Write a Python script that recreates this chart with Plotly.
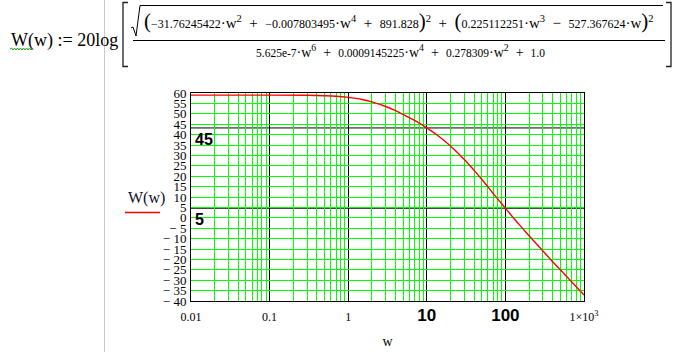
import plotly.graph_objects as go

# ---------------- data ----------------
w_vals = [0.01, 0.1, 0.3, 0.5, 0.7, 1, 1.5, 2, 3, 4, 5, 7, 10, 15, 20, 30, 40,
          50, 70, 100, 150, 200, 300, 400, 500, 700, 1000]
W_vals = [59.0, 59.0, 58.9, 58.7, 58.45, 57.9, 56.9, 55.7, 53.5, 51.5, 49.7,
          46.8, 43.2, 38.5, 34.5, 28.0, 22.8, 18.5, 11.7, 4.6, -3.3, -8.6,
          -16.0, -21.1, -25.0, -30.9, -37.1]

x_tick_vals = [0.01, 0.1, 1, 10, 100, 1000]
x_tick_text = ["0.01", "0.1", "1",
               "<span style='font-family:Liberation Sans;font-size:17px'><b>10</b></span>",
               "<span style='font-family:Liberation Sans;font-size:17px'><b>100</b></span>",
               "1×10<sup>3</sup>"]
y_tick_vals = list(range(-40, 61, 5))
y_tick_text = [("\u2212 " + str(-v)) if v < 0 else str(v) for v in y_tick_vals]

marker_y_vals = [43.2, 4.6]
marker_y_text = ["45", "5"]

minor_x = [m * 10 ** e for e in range(-2, 3) for m in range(2, 10)]

# ---------------- geometry helpers (pixel -> paper) ----------------
W_PX, H_PX = 678, 352
L, R, T, B = 191, 584, 93, 301


def px(x):
    return (x - L) / (R - L)


def py(y):
    return (B - y) / (B - T)


fig = go.Figure()
fig.add_trace(go.Scatter(x=w_vals, y=W_vals, mode="lines",
                         line=dict(color="#ff0000", width=1.4, shape="spline"),
                         showlegend=False, hoverinfo="skip"))

shapes = []
annotations = []

# marker lines
for v, t in zip(marker_y_vals, marker_y_text):
    shapes.append(dict(type="line", xref="paper", yref="y", x0=0, x1=1, y0=v, y1=v,
                       line=dict(color="black", width=1), layer="below"))
    annotations.append(dict(xref="paper", yref="y", x=0, y=v, text="<b>" + t + "</b>",
                            showarrow=False, xanchor="left", yanchor="top",
                            xshift=2, yshift=-1,
                            font=dict(family="Liberation Sans", size=16, color="black")))

# y-axis label and its trace indicator
annotations.append(dict(xref="paper", yref="paper", x=px(146), y=py(198), text="W(w)",
                        showarrow=False, xanchor="center", yanchor="middle",
                        font=dict(family="Liberation Serif", size=16, color="#101030")))
shapes.append(dict(type="line", xref="paper", yref="paper", x0=px(125), x1=px(160),
                   y0=py(212.5), y1=py(212.5), line=dict(color="#ff0000", width=1.5)))

# gray region separator
shapes.append(dict(type="line", xref="paper", yref="paper", x0=px(104.5), x1=px(104.5),
                   y0=py(0), y1=py(352), line=dict(color="#c8c8c8", width=1)))

SP = "\u2002"
# formula: left part
annotations.append(dict(xref="paper", yref="paper", x=px(9), y=py(40),
                        text="W(w) := 20log",
                        showarrow=False, xanchor="left", yanchor="middle",
                        font=dict(family="Liberation Serif", size=18, color="black")))
# green squiggle under W
sq = "M {} {}".format(px(10), py(49))
xx = 10
up = True
while xx < 32:
    xx += 1.5
    sq += " L {} {}".format(px(xx), py(48 if up else 50))
    up = not up
shapes.append(dict(type="path", xref="paper", yref="paper", path=sq,
                   line=dict(color="#20a020", width=1)))

# brackets
for xa, xb in [(128, 123), (666, 671)]:
    shapes.append(dict(type="path", xref="paper", yref="paper",
                       path="M {a} {t} L {b} {t} L {b} {bb} L {a} {bb}".format(
                           a=px(xa), b=px(xb), t=py(2.5), bb=py(66.5)),
                       line=dict(color="#202020", width=1.3)))
# sqrt sign
shapes.append(dict(type="path", xref="paper", yref="paper",
                   path="M {} {} L {} {} L {} {} L {} {} L {} {}".format(
                       px(131), py(28), px(133), py(27), px(136), py(36),
                       px(140), py(5.5), px(663), py(5.5)),
                   line=dict(color="black", width=1)))
# fraction bar
shapes.append(dict(type="line", xref="paper", yref="paper", x0=px(133), x1=px(665),
                   y0=py(40.5), y1=py(40.5), line=dict(color="black", width=1)))


def n(s, size=12):
    return "<span style='font-size:{}px'>".format(size) + s + "</span>"


def P(s):
    return "<span style='font-size:21px'>" + s + "</span>"


def op(s):
    return SP + s + SP


numer = (P("(") + n("\u221231.76245422") + "·w<sup>2</sup>" + op("+") + n("\u22120.007803495")
         + "·w<sup>4</sup>" + op("+") + n("891.828") + P(")") + "<sup>2</sup>" + op("+") + P("(")
         + n("0.225112251") + "·w<sup>3</sup>" + op("\u2212") + n("527.367624") + "·w" + P(")")
         + "<sup>2</sup>")
annotations.append(dict(xref="paper", yref="paper", x=px(142), y=py(21), text=numer,
                        showarrow=False, xanchor="left", yanchor="middle",
                        font=dict(family="Liberation Serif", size=15, color="black")))

denom = (n("5.625e-7", 11.5) + "·w<sup>6</sup>" + op("+") + n("0.0009145225", 11.5)
         + "·w<sup>4</sup>" + op("+") + n("0.278309", 11.5) + "·w<sup>2</sup>" + op("+")
         + n("1.0", 11.5))
annotations.append(dict(xref="paper", yref="paper", x=px(400), y=py(51), text=denom,
                        showarrow=False, xanchor="center", yanchor="middle",
                        font=dict(family="Liberation Serif", size=14, color="black")))

fig.update_layout(
    width=W_PX, height=H_PX,
    margin=dict(l=L, r=W_PX - R, t=T, b=H_PX - B, pad=0, autoexpand=False),
    paper_bgcolor="white", plot_bgcolor="white",
    font=dict(family="Liberation Serif", size=12, color="black"),
    shapes=shapes, annotations=annotations,
    xaxis=dict(type="log", range=[-2, 3], tickmode="array", tickvals=x_tick_vals,
               ticktext=x_tick_text, showgrid=True, gridcolor="black", gridwidth=1,
               minor=dict(tickmode="array", tickvals=minor_x, showgrid=True,
                          gridcolor="#00ff00", gridwidth=1, ticks=""),
               showline=True, mirror=True, linecolor="black", linewidth=1,
               ticks="", ticklabelstandoff=5, zeroline=False, automargin=False,
               tickfont=dict(family="Liberation Serif", size=12, color="black"),
               title=dict(text="w", standoff=11,
                          font=dict(family="Liberation Serif", size=14, color="black"))),
    yaxis=dict(range=[-40, 60], tickmode="array", tickvals=y_tick_vals,
               ticktext=y_tick_text, showgrid=True, gridcolor="#00ff00", gridwidth=1,
               showline=True, mirror=True, linecolor="black", linewidth=1,
               ticks="", ticklabelstandoff=1, zeroline=False, automargin=False,
               tickfont=dict(family="Liberation Serif", size=13, color="black")),
)

fig.write_html("out.html")
